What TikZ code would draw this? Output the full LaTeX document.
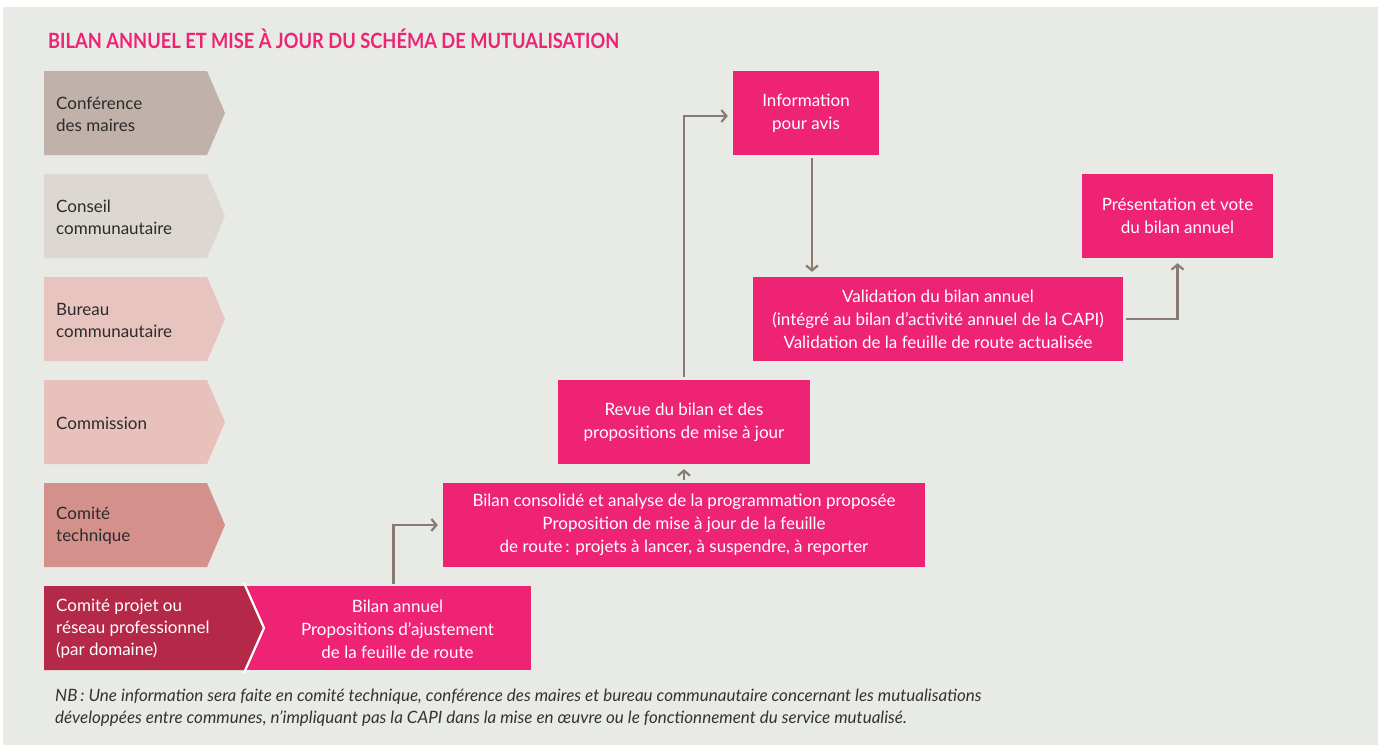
\documentclass[tikz,border=0pt]{standalone}
\usepackage{fontspec}
\setmainfont{Lato}
\newfontfamily\titlefont[FakeStretch=0.87]{Lato}
\usetikzlibrary{arrows.meta}
\definecolor{bgc}{HTML}{E8EAE5}
\definecolor{pinkc}{HTML}{EE2374}
\definecolor{darkred}{HTML}{B52948}
\definecolor{arrc}{HTML}{8A7B72}
\definecolor{chevA}{HTML}{C0B1AA}
\definecolor{chevB}{HTML}{DDD7D2}
\definecolor{chevC}{HTML}{E8C4BE}
\definecolor{chevD}{HTML}{E8C1BB}
\definecolor{chevE}{HTML}{D4908B}
\definecolor{chevtxt}{HTML}{2B2B2B}
\definecolor{nbtxt}{HTML}{333333}
\newcommand\chevshape[2]{\fill[#2] (44,#1) -- (207,#1) -- (225,#1+42) -- (207,#1+84) -- (44,#1+84) -- cycle;}
\begin{document}
\begin{tikzpicture}[x=1pt,y=-1pt,
  box/.style={fill=pinkc, text=white, align=center, inner sep=0pt, minimum height=84pt,
    font=\fontsize{17}{23}\selectfont},
  chevtext/.style={anchor=west, align=left, inner sep=0pt, text=chevtxt,
    font=\fontsize{17}{22}\selectfont},
  arr/.style={draw=arrc, line width=2.2pt, -{Straight Barb[length=5pt,width=12pt]},
    shorten <=3pt, shorten >=5pt}]
\useasboundingbox (0,0) rectangle (1378,745);
\fill[white] (0,0) rectangle (1378,745);
\fill[bgc] (3,7) rectangle (1378,745);

\node[anchor=base west, inner sep=0pt, text=pinkc, font=\titlefont\bfseries\fontsize{21}{24}\selectfont] (title) at (48,48)
  {BILAN ANNUEL ET MISE À JOUR DU SCHÉMA DE MUTUALISATION};

% left column chevrons
\chevshape{71}{chevA}
\node[chevtext] (conf) at (56,114) {Conférence\\des maires};
\chevshape{174}{chevB}
\node[chevtext] (conseil) at (56,217) {Conseil\\communautaire};
\chevshape{277}{chevC}
\node[chevtext] (bureau) at (56,320) {Bureau\\communautaire};
\chevshape{380}{chevD}
\node[chevtext] (commission) at (56,423) {Commission};
\chevshape{483}{chevE}
\node[chevtext] (comtech) at (56,526) {Comité\\technique};

% bottom row
\fill[pinkc] (244,586) rectangle (531,670);
\fill[darkred] (44,586) -- (244,586) -- (264,628) -- (244,670) -- (44,670) -- cycle;
\draw[white, line width=2.2pt] (244,583) -- (264,628) -- (244,673);
\node[chevtext, text=white] (comproj) at (56,629) {Comité projet ou\\réseau professionnel\\(par domaine)};
\node[box, fill=none, minimum width=267pt] (ba) at (397.5,629) {Bilan annuel\\Propositions d’ajustement\\de la feuille de route};

% pink boxes
\node[box, minimum width=482pt] (cons) at (684,525)
  {Bilan consolidé et analyse de la programmation proposée\\Proposition de mise à jour de la feuille\\de route\,: projets à lancer, à suspendre, à reporter};
\node[box, minimum width=252pt] (revue) at (684,422)
  {Revue du bilan et des\\propositions de mise à jour};
\node[box, minimum width=146pt] (info) at (806,113)
  {Information\\pour avis};
\node[box, minimum width=370pt] (val) at (938,319)
  {Validation du bilan annuel\\(intégré au bilan d’activité annuel de la CAPI)\\Validation de la feuille de route actualisée};
\node[box, minimum width=191pt] (pres) at (1177.5,216)
  {Présentation et vote\\du bilan annuel};

% connectors
\draw[arr] ([xshift=-4pt]ba.north) |- (cons.west);
\draw[arr] (cons.north) -- (revue.south);
\draw[arr] (revue.north) |- ([yshift=-3pt]info.west);
\draw[arr] ([xshift=6pt]info.south) -- ([xshift=6pt]info.south |- val.north);
\draw[arr] (val.east) -| (pres.south);

% note
\node[anchor=north west, align=left, inner sep=0pt, text=nbtxt, font=\itshape\fontsize{17}{22}\selectfont] (nb) at (55,689)
  {NB\,: Une information sera faite en comité technique, conférence des maires et bureau communautaire concernant les mutualisations\\développées entre communes, n’impliquant pas la CAPI dans la mise en œuvre ou le fonctionnement du service mutualisé.};
\end{tikzpicture}
\end{document}
